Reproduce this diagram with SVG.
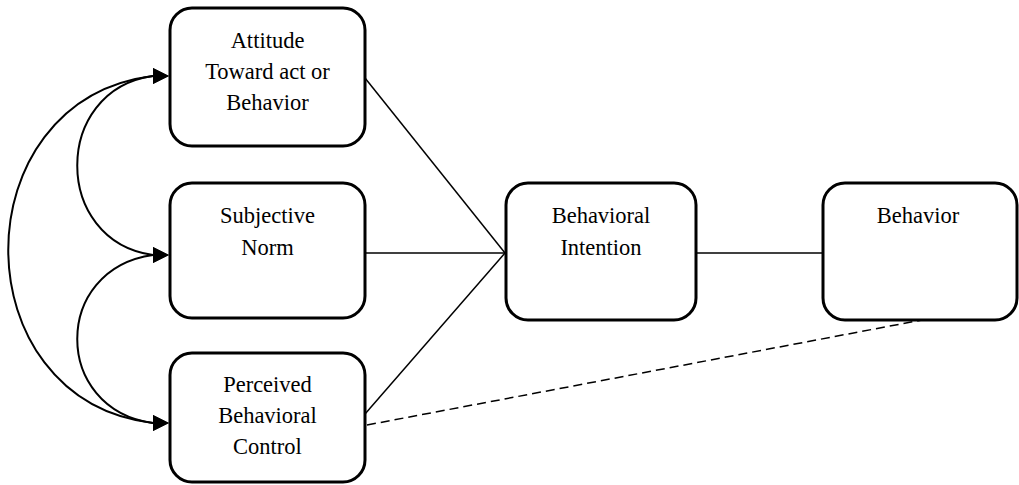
<svg xmlns="http://www.w3.org/2000/svg" width="1019" height="485" viewBox="0 0 1019 485">
<style>
.box{fill:#fff;stroke:#000;stroke-width:3}
text{font-family:"Times New Roman",Times,Tinos,"Liberation Serif","DejaVu Serif","Noto Serif",FreeSerif,serif;font-size:22.5px;fill:#000;text-anchor:middle}
.ln{fill:none;stroke:#000;stroke-width:1.5}
.cv{fill:none;stroke:#000;stroke-width:2;marker-start:url(#ah);marker-end:url(#ah)}
.dash{fill:none;stroke:#000;stroke-width:1.5;stroke-dasharray:9 5}
</style>
<defs>
<marker id="ah" markerUnits="userSpaceOnUse" markerWidth="17" markerHeight="17" refX="0" refY="8" orient="0">
<path d="M0,0 L16,8 L0,16 z" fill="#000"/>
</marker>
</defs>
<g id="connectors">
<line class="ln" x1="365" y1="78" x2="505" y2="253"/>
<line class="ln" x1="365" y1="253" x2="505" y2="253"/>
<line class="ln" x1="365" y1="414" x2="505" y2="253"/>
<line class="ln" x1="696" y1="253" x2="823" y2="253"/>
<line class="dash" x1="367" y1="425" x2="922" y2="320"/>
<path class="cv" d="M153,76 C52,90 52,241 153,255"/>
<path class="cv" d="M153,255 C52,269 52,409 153,423"/>
<path class="cv" d="M153,76 C-40,100 -40,400 153,423"/>
</g>
<g id="attitude">
<rect class="box" x="170" y="8" width="195" height="138" rx="22"/>
<text x="267.5" y="48">Attitude</text>
<text x="267.5" y="79">Toward act or</text>
<text x="267.5" y="110">Behavior</text>
</g>
<g id="subjective-norm">
<rect class="box" x="170" y="183" width="195" height="135" rx="22"/>
<text x="267.5" y="223">Subjective</text>
<text x="267.5" y="255">Norm</text>
</g>
<g id="pbc">
<rect class="box" x="170" y="353" width="195" height="129" rx="22"/>
<text x="267.5" y="392">Perceived</text>
<text x="267.5" y="423">Behavioral</text>
<text x="267.5" y="454">Control</text>
</g>
<g id="intention">
<rect class="box" x="506" y="183" width="190" height="137" rx="22"/>
<text x="601" y="223">Behavioral</text>
<text x="601" y="255">Intention</text>
</g>
<g id="behavior">
<rect class="box" x="823" y="183" width="194" height="137" rx="22"/>
<text x="918" y="223">Behavior</text>
</g>
</svg>
